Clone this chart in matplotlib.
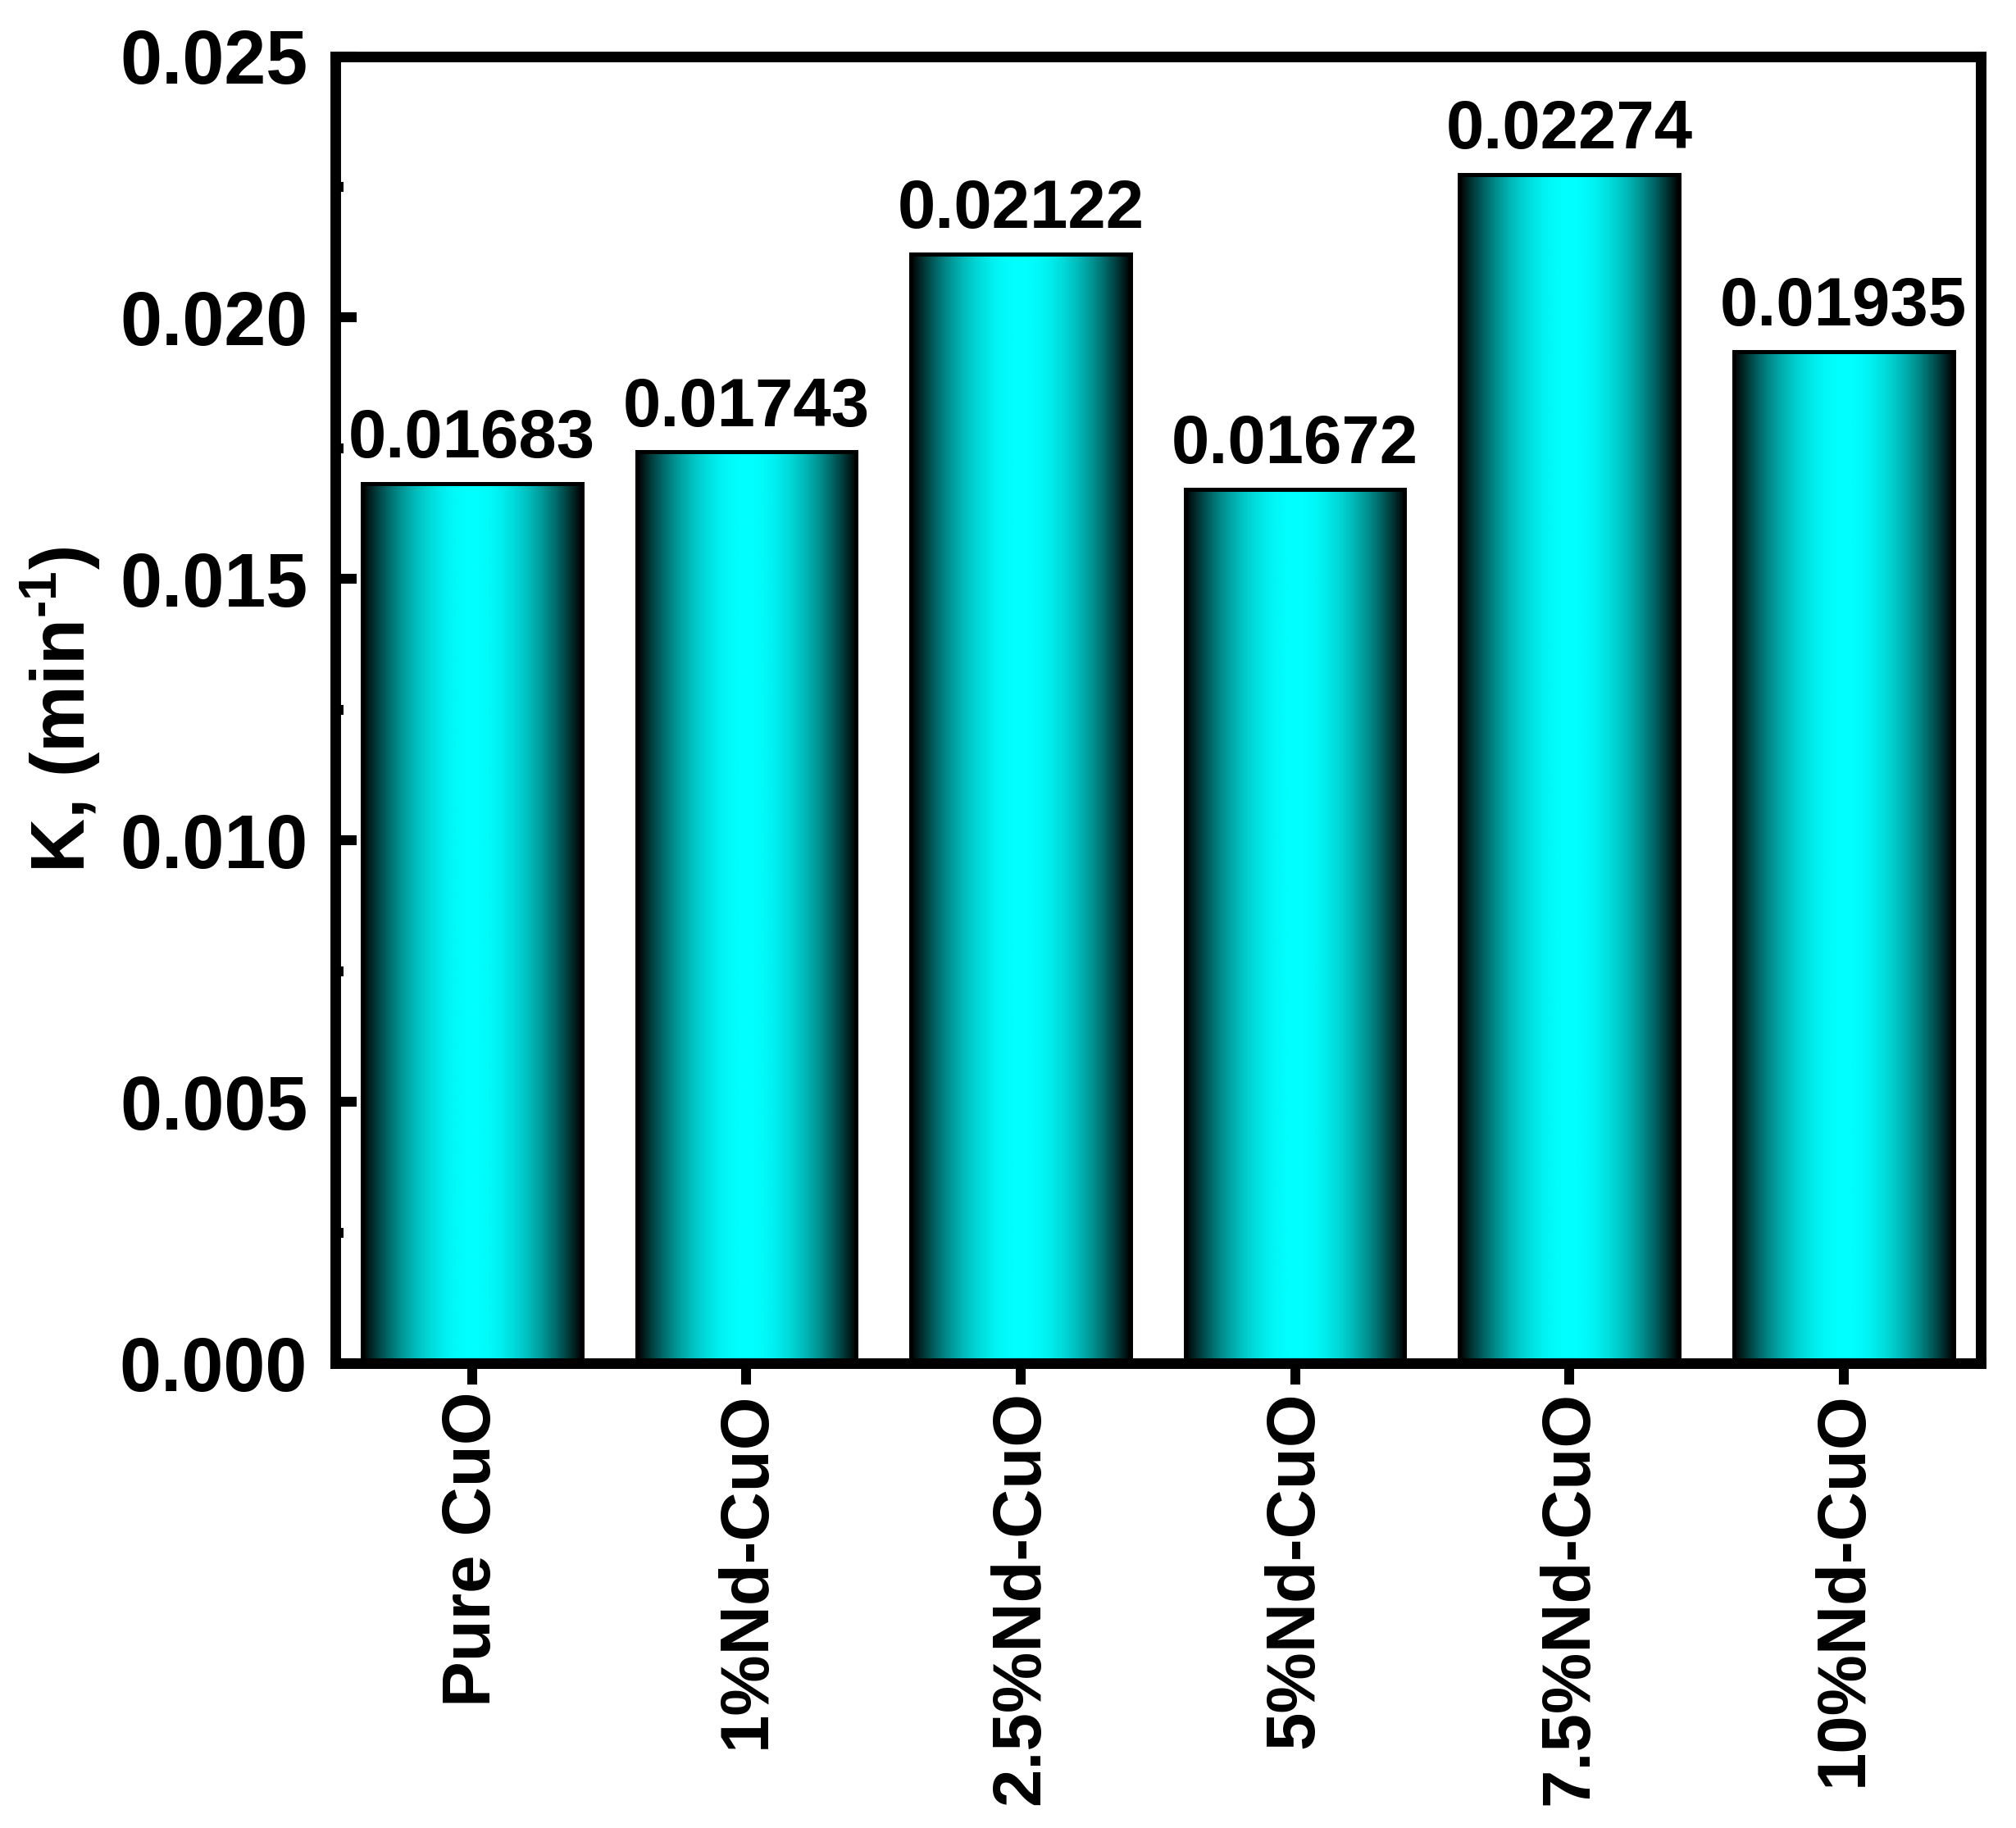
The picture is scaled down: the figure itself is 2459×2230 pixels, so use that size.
import numpy as np
import matplotlib
matplotlib.use("Agg")
import matplotlib.pyplot as plt
from matplotlib.colors import LinearSegmentedColormap
from matplotlib.ticker import MultipleLocator, FormatStrFormatter

categories = ["Pure CuO", "1%Nd-CuO", "2.5%Nd-CuO", "5%Nd-CuO", "7.5%Nd-CuO", "10%Nd-CuO"]
k_values = [0.01683, 0.01743, 0.02122, 0.01672, 0.02274, 0.01935]
value_labels = ["0.01683", "0.01743", "0.02122", "0.01672", "0.02274", "0.01935"]

plt.rcParams['font.family'] = ['Liberation Sans', 'DejaVu Sans']
plt.rcParams['font.weight'] = 'bold'
plt.rcParams['mathtext.fontset'] = 'custom'
plt.rcParams['mathtext.rm'] = 'Liberation Sans:bold'
plt.rcParams['mathtext.bf'] = 'Liberation Sans:bold'
plt.rcParams['mathtext.it'] = 'Liberation Sans:bold'
plt.rcParams['mathtext.default'] = 'bf'

fig = plt.figure(figsize=(2459/300, 2230/300), dpi=300)
ax = fig.add_axes([408.5/2459, 1 - 1663/2230, (2416-408.5)/2459, (1663-68.5)/2230])

x = np.arange(1, len(categories) + 1)
width = 0.8

# horizontal gradient: black at edges -> cyan in centre
t = np.linspace(0, 1, 256)
profile = 1 - (2*t - 1)**2
grad = profile[np.newaxis, :]
cmap = LinearSegmentedColormap.from_list("bk_cyan", [(0, 0, 0), (0, 1, 1)])

bars = ax.bar(x, k_values, width=width, facecolor='none', edgecolor='black',
              linewidth=1.2, zorder=3)
for b in bars:
    x0, y0 = b.get_x(), b.get_y()
    w, h = b.get_width(), b.get_height()
    im = ax.imshow(grad, extent=(x0, x0 + w, y0, y0 + h), aspect='auto',
                   cmap=cmap, vmin=0, vmax=1, interpolation='bilinear', zorder=2)
    im.set_clip_path(b)

for xi, v, lab in zip(x, k_values, value_labels):
    ax.annotate(lab, (xi, v), xytext=(0, 3.5), textcoords='offset points',
                ha='center', va='bottom', fontsize=20, fontweight='bold')

ax.set_xlim(0.5, 6.5)
ax.set_ylim(0, 0.025)
ax.yaxis.set_major_locator(MultipleLocator(0.005))
ax.yaxis.set_minor_locator(MultipleLocator(0.0025))
ax.yaxis.set_major_formatter(FormatStrFormatter('%.3f'))
ax.set_xticks(x)
ax.set_xticklabels(categories, rotation=90, fontsize=20, fontweight='bold')

for s in ax.spines.values():
    s.set_linewidth(3.1)

ax.tick_params(axis='y', which='major', direction='in', length=6.2, width=2.9,
               labelsize=22, pad=8, right=False)
ax.tick_params(axis='y', which='minor', direction='in', length=2.4, width=2.9, right=False)
ax.tick_params(axis='x', which='major', direction='out', length=6.2, width=2.9,
               pad=2, top=False)
ax.tick_params(axis='x', which='minor', bottom=False, top=False)

for lbl in ax.get_yticklabels():
    lbl.set_fontweight('bold')

ax.set_ylabel(r"K, (min$^{\text{-1}}$)", fontsize=22, fontweight='bold', labelpad=5)

fig.savefig("out.png", dpi=300)
